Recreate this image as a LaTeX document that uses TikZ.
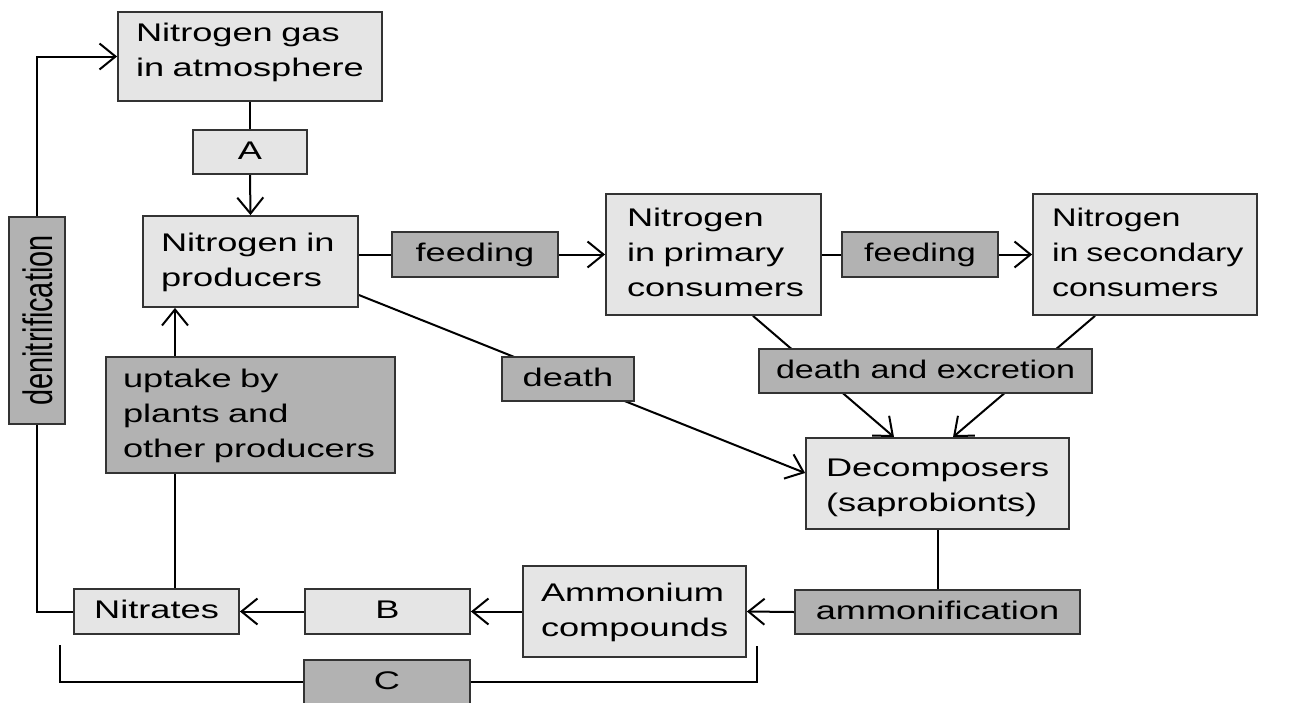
\documentclass[tikz,border=0pt]{standalone}
\usepackage{fontspec}
\usepackage{graphicx}
\setmainfont{Liberation Sans}[FakeStretch=1.42]
\newfontfamily\plainsans{Liberation Sans}
\usetikzlibrary{arrows.meta,calc,backgrounds}
\newcommand\mlines[1]{\begin{tabular}{@{}l@{}}#1\end{tabular}}
\newcommand\shiftup[2]{\raisebox{#1}[\height][\depth]{#2}}
\newcommand\narrow[1]{\scalebox{0.94}[1]{#1}}
\begin{document}
\begin{tikzpicture}[x=1pt,y=-1pt,
  every node/.style={font=\fontsize{25.5}{35}\selectfont, inner sep=0pt, draw=black!80, line width=1.8pt},
  lt/.style={fill=black!10},
  dk/.style={fill=black!30},
  sbox/.style n args={2}{minimum width=#1, minimum height=#2, text height=24.5pt, text depth=10.5pt},
  lbox/.style n args={4}{minimum width=#1, minimum height=#2, inner xsep=#3, text width=#4, align=left},
  ln/.style={draw=black, line width=2pt},
  arr/.style={-{Straight Barb[length=16pt,width=26pt]}}]
\useasboundingbox (0,0) rectangle (1296,702);
\clip (0,0) rectangle (1296,702);

\node[lt, lbox={264}{89}{18pt}{228pt}] (gas) at (250,56.5) {\shiftup{5pt}{\mlines{Nitrogen gas\\in atmosphere}}};
\node[lt, sbox={114}{44}] (A) at (250,152) {A};
\node[lt, lbox={215}{91}{18pt}{179pt}] (prod) at (250.5,261.5) {\mlines{Nitrogen in\\producers}};
\node[dk, sbox={166}{45}] (feed1) at (475,254.5) {feeding};
\node[lt, lbox={215}{121}{21pt}{173pt}] (prim) at (713.5,254.5) {\mlines{Nitrogen\\in primary\\consumers}};
\node[dk, sbox={156}{45}] (feed2) at (920,254.5) {\narrow{feeding}};
\node[lt, lbox={224}{121}{19pt}{186pt}] (sec) at (1145,254.5) {\narrow{\mlines{Nitrogen\\in secondary\\consumers}}};
\node[dk, sbox={132}{44}] (death) at (568,379) {death};
\node[dk, sbox={333}{44}] (dex) at (925.5,371) {\narrow{death and excretion}};
\node[lt, lbox={263}{91}{20pt}{223pt}] (dec) at (937.5,483.5) {\shiftup{-3.5pt}{\mlines{Decomposers\\(saprobionts)}}};
\node[dk, minimum width=207, minimum height=56, text height=30pt, text depth=0pt, rotate=90] (denit) at (37,320.5)
  {\plainsans\fontsize{28.9}{35}\selectfont\scalebox{1}[1.42]{denitrification}};
\node[dk, lbox={289}{116}{17pt}{255pt}] (upt) at (250.5,415) {\mlines{uptake by\\plants and\\other producers}};
\node[lt, sbox={165}{45}] (nit) at (156.5,611.5) {Nitrates};
\node[lt, sbox={165}{45}] (B) at (387.5,611.5) {B};
\node[lt, lbox={223}{91}{18pt}{187pt}] (amm) at (634.5,611.5) {\mlines{Ammonium\\compounds}};
\node[dk, sbox={285}{44}] (ammf) at (937.5,612) {ammonification};
\node[dk, sbox={166}{44}] (C) at (387,682) {C};
\coordinate (cl) at (60,645);
\coordinate (cr) at (757,646);

\begin{pgfonlayer}{background}
\fill[white] (0,0) rectangle (1296,702);
\draw[ln] (nit.west) -| (denit.west);
\draw[ln,arr] (denit.east) |- (gas.west);
\draw[ln] (gas.south) -- (A.north);
\draw[ln,arr] (A.south) -- (prod.north);
\draw[ln] (prod.east |- feed1.west) -- (feed1.west);
\draw[ln,arr] (feed1.east) -- (prim.west);
\draw[ln] (prim.east) -- (feed2.west);
\draw[ln,arr] (feed2.east) -- (sec.west);
\draw[ln,arr] ($(prod.east)+(0,33.5)$) -- ($(dec.west)+(0,-10.5)$);
\draw[ln,arr] ($(prim.south)+(39.5,0)$) -- ($(dec.north)+(-43.5,0)$);
\draw[ln,arr] ($(sec.south)+(-50,0)$) -- ($(dec.north)+(15.5,0)$);
\draw[ln] (dec.south) -- (ammf.north);
\draw[ln,arr] (ammf.west) -- (amm.east);
\draw[ln,arr] (amm.west) -- (B.east);
\draw[ln,arr] (B.west) -- (nit.east);
\draw[ln] ($(nit.north)+(18.5,0)$) -- ($(upt.south)+(-75.5,0)$);
\draw[ln,arr] ($(upt.north)+(-75.5,0)$) -- ($(prod.south)+(-75.5,0)$);
\draw[ln] (cl) |- (C.west);
\draw[ln] (C.east) -| (cr);
\end{pgfonlayer}
\end{tikzpicture}
\end{document}
